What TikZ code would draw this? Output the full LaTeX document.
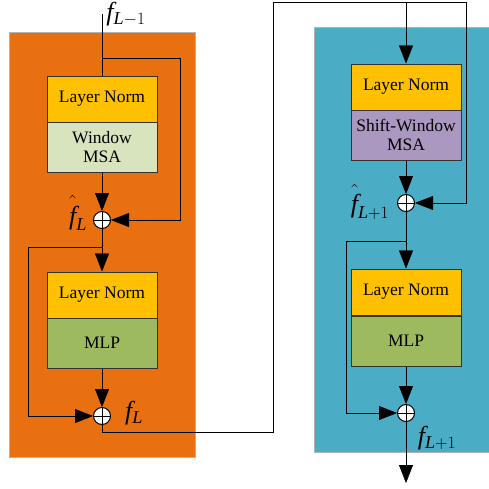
\documentclass[tikz,border=0pt]{standalone}
\usepackage{fontspec}
\setmainfont{Liberation Serif}
\usepackage{tikz}
\usetikzlibrary{arrows.meta}
\tikzset{>={Triangle[length=18pt,width=14pt]}, line width=1.5pt}
\definecolor{blockorange}{RGB}{232,112,16}
\definecolor{blockblue}{RGB}{75,172,198}
\definecolor{normyellow}{RGB}{255,192,0}
\definecolor{msagreen}{RGB}{216,228,190}
\definecolor{msapurple}{RGB}{170,152,192}
\definecolor{mlpgreen}{RGB}{157,187,94}
\newcommand{\hatf}{\hat{\raisebox{0pt}[0.85em]{$\mathit{f}$}}}
\tikzset{
  panel/.style={draw=gray!60, line width=0.8pt},
  layer/.style={draw=black!80, line width=1pt, minimum width=110pt, align=center,
    font=\fontsize{17.5}{19}\selectfont},
  addop/.style={circle, draw, fill=white, line width=1pt, minimum size=17pt, inner sep=0pt,
    path picture={\draw[line width=1pt] (path picture bounding box.north) -- (path picture bounding box.south)
      (path picture bounding box.west) -- (path picture bounding box.east);}},
  feat/.style={font=\fontsize{26}{28}\selectfont, inner sep=1pt}
}

\begin{document}
\begin{tikzpicture}[x=1pt,y=-1pt]
  \useasboundingbox (0,0) rectangle (489,488);
  \def\xl{102}
  \def\xr{406}

  % panels
  \fill[blockorange] (9,32) rectangle (195,457);
  \draw[panel] (9,32) rectangle (195,457);
  \fill[blockblue] (314,27) rectangle (492,452);
  \draw[panel] (314,27) rectangle (492,452);

  % block L
  \node[layer,fill=normyellow,minimum height=46pt] (ln1) at (\xl,99) {Layer Norm};
  \node[layer,fill=msagreen,minimum height=50pt] (msa1) at (\xl,147) {Window\\MSA};
  \node[addop] (add1) at (\xl,220) {};
  \node[layer,fill=normyellow,minimum height=46pt] (ln2) at (\xl,295) {Layer Norm};
  \node[layer,fill=mlpgreen,minimum height=50pt] (mlp1) at (\xl,343) {MLP};
  \node[addop] (add2) at (\xl,416) {};

  % block L+1
  \node[layer,fill=normyellow,minimum height=46pt] (ln3) at (\xr,87) {Layer Norm};
  \node[layer,fill=msapurple,minimum height=50pt] (msa2) at (\xr,135) {Shift-Window\\MSA};
  \node[addop] (add3) at (\xr,203) {};
  \node[layer,fill=normyellow,minimum height=46pt] (ln4) at (\xr,292) {Layer Norm};
  \node[layer,fill=mlpgreen,minimum height=50pt] (mlp2) at (\xr,341) {MLP};
  \node[addop] (add4) at (\xr,413) {};

  % labels
  \node[feat] (fin) at (126,14) {$\mathit{f}_{\mathit{L}-1}$};
  \node[feat] (fhat1) at (78,213) {$\hatf_{\mathit{L}}$};
  \node[feat] (f1) at (134,413) {$\mathit{f}_{\mathit{L}}$};
  \node[feat] (fhat2) at (370,202) {$\hatf_{\mathit{L}+1}$};
  \node[feat] (f2) at (437,438) {$\mathit{f}_{\mathit{L}+1}$};

  % connectors, block L
  \coordinate (in) at (\xl,14);
  \coordinate (s1) at (\xl,58);
  \coordinate (s2) at (\xl,247);
  \coordinate (o1) at (\xl,432);
  \draw (in) -- (ln1.north);
  \draw[->] (s1) -- (180,58) |- (add1);
  \draw[->] (msa1) -- (add1);
  \draw[->] (add1) -- (ln2);
  \draw[->] (s2) -- (28,247) |- (add2);
  \draw[->] (mlp1) -- (add2);

  % link between blocks
  \coordinate (t1) at (\xr,2);
  \draw (add2) -- (o1) -- (273,432) -- (273,2) -- (t1);
  \draw[->] (t1) -- (466,2) |- (add3);
  \draw[->] (t1) -- (ln3);

  % connectors, block L+1
  \coordinate (s3) at (\xr,241);
  \coordinate (out) at (\xr,483);
  \draw[->] (msa2) -- (add3);
  \draw[->] (add3) -- (ln4);
  \draw[->] (s3) -- (346,241) |- (add4);
  \draw[->] (mlp2) -- (add4);
  \draw[->] (add4) -- (out);
\end{tikzpicture}
\end{document}
